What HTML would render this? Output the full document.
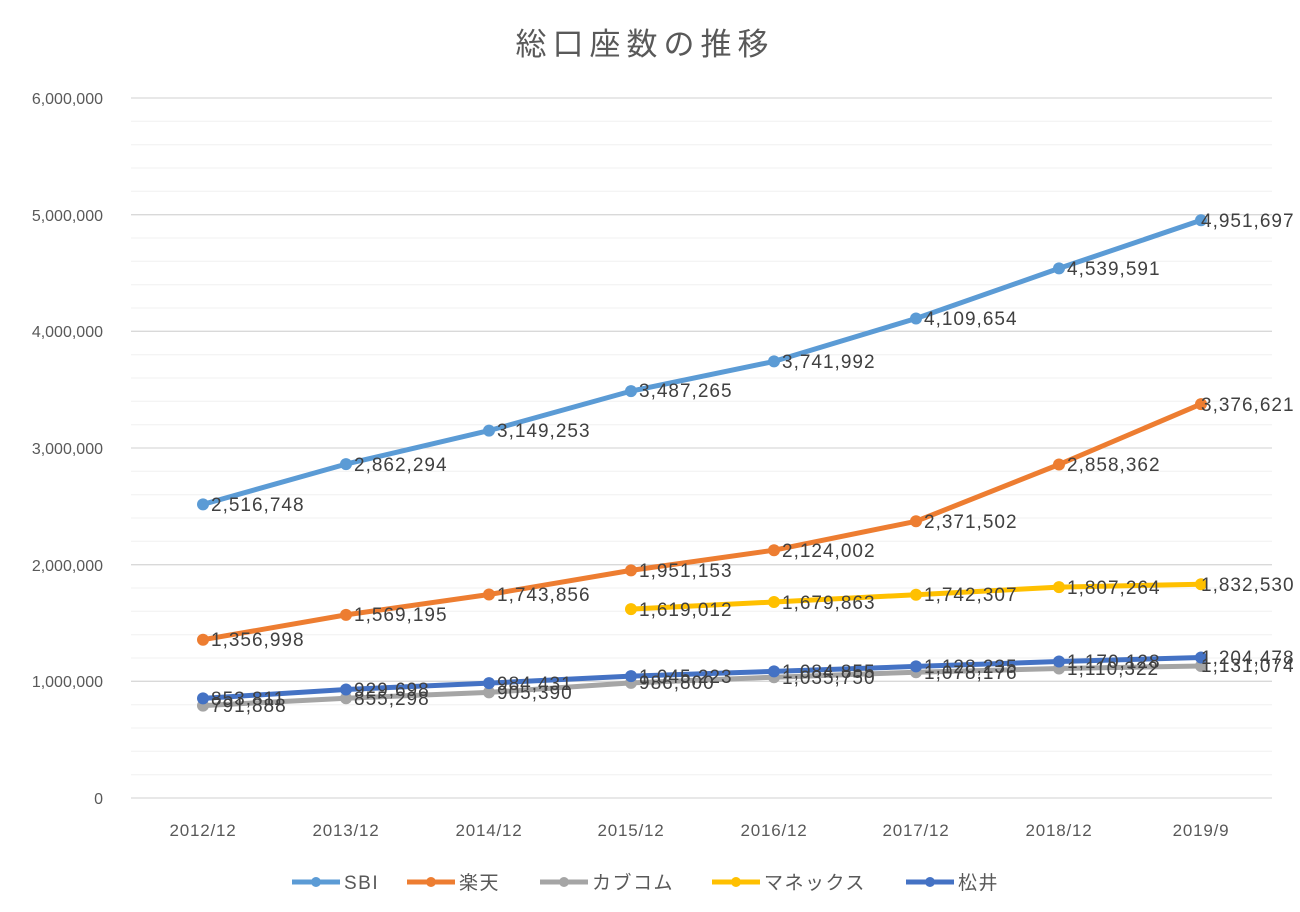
<!DOCTYPE html>
<html><head><meta charset="utf-8"><style>
body{margin:0;background:#fff;}
svg text{font-family:"Liberation Sans","Noto Sans CJK JP",sans-serif;}
</style></head><body>
<svg width="1300" height="907" viewBox="0 0 1300 907" xmlns="http://www.w3.org/2000/svg">
<rect width="1300" height="907" fill="#fff"/>
<text x="645" y="55" text-anchor="middle" font-size="31" letter-spacing="6" fill="#595959">総口座数の推移</text>
<g stroke="#f0f0f0" stroke-width="1">
<line x1="131" x2="1272" y1="121.3" y2="121.3"/><line x1="131" x2="1272" y1="144.7" y2="144.7"/><line x1="131" x2="1272" y1="168" y2="168"/><line x1="131" x2="1272" y1="191.3" y2="191.3"/>
<line x1="131" x2="1272" y1="238" y2="238"/><line x1="131" x2="1272" y1="261.3" y2="261.3"/><line x1="131" x2="1272" y1="284.7" y2="284.7"/><line x1="131" x2="1272" y1="308" y2="308"/>
<line x1="131" x2="1272" y1="354.7" y2="354.7"/><line x1="131" x2="1272" y1="378" y2="378"/><line x1="131" x2="1272" y1="401.3" y2="401.3"/><line x1="131" x2="1272" y1="424.7" y2="424.7"/>
<line x1="131" x2="1272" y1="471.3" y2="471.3"/><line x1="131" x2="1272" y1="494.7" y2="494.7"/><line x1="131" x2="1272" y1="518" y2="518"/><line x1="131" x2="1272" y1="541.3" y2="541.3"/>
<line x1="131" x2="1272" y1="588" y2="588"/><line x1="131" x2="1272" y1="611.3" y2="611.3"/><line x1="131" x2="1272" y1="634.7" y2="634.7"/><line x1="131" x2="1272" y1="658" y2="658"/>
<line x1="131" x2="1272" y1="704.7" y2="704.7"/><line x1="131" x2="1272" y1="728" y2="728"/><line x1="131" x2="1272" y1="751.3" y2="751.3"/><line x1="131" x2="1272" y1="774.7" y2="774.7"/>
</g>
<g stroke="#d9d9d9" stroke-width="1.3">
<line x1="131" x2="1272" y1="98" y2="98"/><line x1="131" x2="1272" y1="214.7" y2="214.7"/><line x1="131" x2="1272" y1="331.3" y2="331.3"/><line x1="131" x2="1272" y1="448" y2="448"/><line x1="131" x2="1272" y1="564.7" y2="564.7"/><line x1="131" x2="1272" y1="681.3" y2="681.3"/><line x1="131" x2="1272" y1="798" y2="798"/>
</g>
<g font-size="16" fill="#595959" text-anchor="end">
<text x="103" y="104">6,000,000</text><text x="103" y="221">5,000,000</text><text x="103" y="337">4,000,000</text><text x="103" y="454">3,000,000</text><text x="103" y="571">2,000,000</text><text x="103" y="687">1,000,000</text><text x="103" y="804">0</text>
</g>
<g font-size="17" fill="#595959" text-anchor="middle" letter-spacing="0.8">
<text x="203" y="836">2012/12</text><text x="346" y="836">2013/12</text><text x="489" y="836">2014/12</text><text x="631" y="836">2015/12</text><text x="774" y="836">2016/12</text><text x="916" y="836">2017/12</text><text x="1059" y="836">2018/12</text><text x="1201" y="836">2019/9</text>
</g>
<g fill="none" stroke-width="5" stroke-linejoin="round" stroke-linecap="round">
<polyline stroke="#5b9bd5" points="203,504.4 346,464.1 489,430.6 631,391.1 774,361.4 916,318.5 1059,268.4 1201,220.3"/>
<polyline stroke="#ed7d31" points="203,639.7 346,614.9 489,594.5 631,570.4 774,550.2 916,521.3 1059,464.5 1201,404.1"/>
<polyline stroke="#a5a5a5" points="203,705.6 346,698.2 489,692.4 631,682.9 774,677.2 916,672.2 1059,668.5 1201,666"/>
<polyline stroke="#ffc000" points="631,609.1 774,602 916,594.7 1059,587.1 1201,584.2"/>
<polyline stroke="#4472c4" points="203,698.4 346,689.5 489,683.1 631,676.1 774,671.4 916,666.4 1059,661.5 1201,657.5"/>
</g>
<g>
<g fill="#5b9bd5"><circle cx="203" cy="504.4" r="6"/><circle cx="346" cy="464.1" r="6"/><circle cx="489" cy="430.6" r="6"/><circle cx="631" cy="391.1" r="6"/><circle cx="774" cy="361.4" r="6"/><circle cx="916" cy="318.5" r="6"/><circle cx="1059" cy="268.4" r="6"/><circle cx="1201" cy="220.3" r="6"/></g>
<g fill="#ed7d31"><circle cx="203" cy="639.7" r="6"/><circle cx="346" cy="614.9" r="6"/><circle cx="489" cy="594.5" r="6"/><circle cx="631" cy="570.4" r="6"/><circle cx="774" cy="550.2" r="6"/><circle cx="916" cy="521.3" r="6"/><circle cx="1059" cy="464.5" r="6"/><circle cx="1201" cy="404.1" r="6"/></g>
<g fill="#a5a5a5"><circle cx="203" cy="705.6" r="6"/><circle cx="346" cy="698.2" r="6"/><circle cx="489" cy="692.4" r="6"/><circle cx="631" cy="682.9" r="6"/><circle cx="774" cy="677.2" r="6"/><circle cx="916" cy="672.2" r="6"/><circle cx="1059" cy="668.5" r="6"/><circle cx="1201" cy="666" r="6"/></g>
<g fill="#ffc000"><circle cx="631" cy="609.1" r="6"/><circle cx="774" cy="602" r="6"/><circle cx="916" cy="594.7" r="6"/><circle cx="1059" cy="587.1" r="6"/><circle cx="1201" cy="584.2" r="6"/></g>
<g fill="#4472c4"><circle cx="203" cy="698.4" r="6"/><circle cx="346" cy="689.5" r="6"/><circle cx="489" cy="683.1" r="6"/><circle cx="631" cy="676.1" r="6"/><circle cx="774" cy="671.4" r="6"/><circle cx="916" cy="666.4" r="6"/><circle cx="1059" cy="661.5" r="6"/><circle cx="1201" cy="657.5" r="6"/></g>
</g>
<g font-size="19" fill="#404040" letter-spacing="1">
<text x="211" y="511">2,516,748</text><text x="354" y="471">2,862,294</text><text x="497" y="437">3,149,253</text><text x="639" y="397">3,487,265</text><text x="782" y="368">3,741,992</text><text x="924" y="325">4,109,654</text><text x="1067" y="275">4,539,591</text><text x="1201" y="227">4,951,697</text>
<text x="211" y="646">1,356,998</text><text x="354" y="621">1,569,195</text><text x="497" y="601">1,743,856</text><text x="639" y="577">1,951,153</text><text x="782" y="557">2,124,002</text><text x="924" y="528">2,371,502</text><text x="1067" y="471">2,858,362</text><text x="1201" y="411">3,376,621</text>
<text x="211" y="712">791,888</text><text x="354" y="705">855,298</text><text x="497" y="699">905,390</text><text x="639" y="689">986,800</text><text x="782" y="684">1,035,750</text><text x="924" y="679">1,078,176</text><text x="1067" y="675">1,110,322</text><text x="1201" y="672">1,131,074</text>
<text x="639" y="616">1,619,012</text><text x="782" y="609">1,679,863</text><text x="924" y="601">1,742,307</text><text x="1067" y="594">1,807,264</text><text x="1201" y="591">1,832,530</text>
<text x="211" y="705">853,811</text><text x="354" y="696">929,698</text><text x="497" y="690">984,431</text><text x="639" y="683">1,045,223</text><text x="782" y="678">1,084,855</text><text x="924" y="673">1,128,235</text><text x="1067" y="668">1,170,128</text><text x="1201" y="664">1,204,478</text>
</g>
<g font-size="19" fill="#595959" letter-spacing="1.5">
<line x1="292" x2="340" y1="882" y2="882" stroke="#5b9bd5" stroke-width="5"/><circle cx="316" cy="882" r="5" fill="#5b9bd5"/><text x="344" y="889">SBI</text>
<line x1="407" x2="455" y1="882" y2="882" stroke="#ed7d31" stroke-width="5"/><circle cx="431" cy="882" r="5" fill="#ed7d31"/><text x="459" y="889">楽天</text>
<line x1="540" x2="588" y1="882" y2="882" stroke="#a5a5a5" stroke-width="5"/><circle cx="564" cy="882" r="5" fill="#a5a5a5"/><text x="592" y="889">カブコム</text>
<line x1="712" x2="760" y1="882" y2="882" stroke="#ffc000" stroke-width="5"/><circle cx="736" cy="882" r="5" fill="#ffc000"/><text x="764" y="889">マネックス</text>
<line x1="906" x2="954" y1="882" y2="882" stroke="#4472c4" stroke-width="5"/><circle cx="930" cy="882" r="5" fill="#4472c4"/><text x="958" y="889">松井</text>
</g>
</svg>
</body></html>
